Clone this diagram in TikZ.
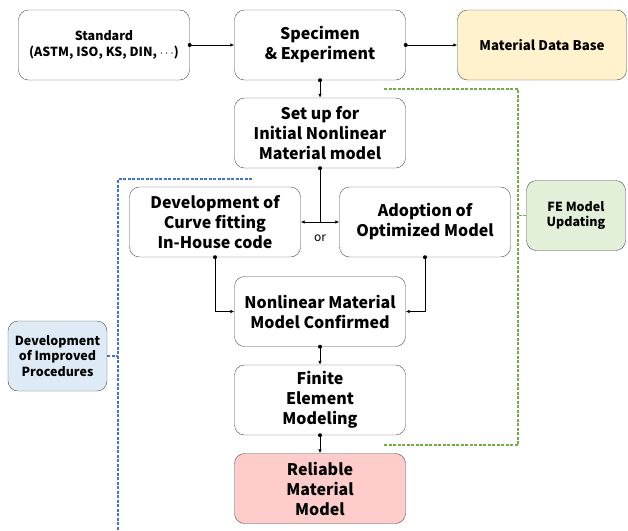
\documentclass[tikz,border=0pt]{standalone}
\usepackage{fontspec}
\setmainfont{Noto Sans CJK KR}
\usetikzlibrary{arrows.meta}
\definecolor{dbyellow}{HTML}{FFF2CC}
\definecolor{feGreen}{HTML}{E2F0D9}
\definecolor{devBlue}{HTML}{DEEBF7}
\definecolor{relRed}{HTML}{FFCCCC}
\definecolor{dashGreen}{HTML}{70AD47}
\definecolor{dashBlue}{HTML}{4472C4}
\begin{document}
\begin{tikzpicture}[x=1pt, y=-1pt,
    box/.style={draw=black!70, rounded corners=10pt, minimum width=171pt, minimum height=70pt,
        inner sep=0pt, align=center, font=\fontsize{16}{20}\selectfont\bfseries},
    sidebox/.style={box, minimum width=99pt, font=\fontsize{12.5}{15.5}\selectfont\bfseries},
    link/.style={draw, line width=0.8pt, -{Latex[length=4pt,width=3.5pt]}},
    greendash/.style={dashGreen, line width=1.1pt, dash pattern=on 3pt off 1.5pt},
    bluedash/.style={dashBlue, line width=1.1pt, dash pattern=on 3pt off 1.5pt}]
    \useasboundingbox (0,0) rectangle (628,530);
    % Main column
    \node[box, font=\fontsize{12.5}{16}\selectfont\bfseries] (std) at (104,45) {Standard\\(ASTM, ISO, KS, DIN, \textbf{$\cdots$})};
    \node[box] (spec) at (320,45) {Specimen\\\& Experiment};
    \node[box, fill=dbyellow, minimum width=169pt, font=\fontsize{13.3}{16}\selectfont\bfseries] (mdb) at (542,45) {Material Data Base};
    \node[box] (setup) at (320,133) {Set up for\\Initial Nonlinear\\Material model};
    \node[box] (curve) at (215,222) {Development of\\Curve fitting\\In-House code};
    \node[box] (adopt) at (425,222) {Adoption of\\Optimized Model};
    \node[box] (conf) at (320,311.5) {Nonlinear Material\\Model Confirmed};
    \node[box] (fem) at (320,400) {Finite\\Element\\Modeling};
    \node[box, fill=relRed] (rel) at (320,488.5) {Reliable\\Material\\Model};
    % Side boxes
    \node[sidebox, fill=feGreen] (fe) at (576,215.5) {FE Model\\Updating};
    \node[sidebox, fill=devBlue] (dev) at (57.5,356) {Development\\of Improved\\Procedures};
    % Connectors
    \coordinate (split) at (320,222);
    \draw[link] (std.east) -- (spec.west);
    \draw[link] (spec.east) -- (mdb.west);
    \draw[link] (spec.south) -- (setup.north);
    \draw[line width=0.8pt] (setup.south) -- (split);
    \draw[link] (split) -- (curve.east);
    \draw[link] (split) -- (adopt.west);
    \node[font=\fontsize{12}{14}\selectfont] (ortxt) at (320,238) {or};
    \draw[link] (curve.south) |- (conf.west);
    \draw[link] (adopt.south) |- (conf.east);
    \draw[link] (conf.south) -- (fem.north);
    \draw[link] (fem.south) -- (rel.north);
    % Start dots
    \foreach \p in {std.east, spec.east, spec.south, setup.south, curve.south, adopt.south, conf.south, fem.south} {
        \fill (\p) circle (2pt);
    }
    % FE model updating loop
    \coordinate (gTL) at (384,89);
    \coordinate (gTR) at (518,89);
    \coordinate (gBR) at (518,445);
    \coordinate (gBL) at (384,445);
    \draw[greendash] (gTL) -- (gTR) -- (gBR) -- (gBL);
    \draw[greendash] (fe.west) -- (fe.west -| gTR);
    % Improved procedures bracket
    \coordinate (bTR) at (252,179);
    \coordinate (bTL) at (118,179);
    \coordinate (bB) at (118,530);
    \draw[bluedash] (bTR) -- (bTL) -- (bB);
    \draw[bluedash] (dev.east) -- (dev.east -| bTL);
\end{tikzpicture}
\end{document}
